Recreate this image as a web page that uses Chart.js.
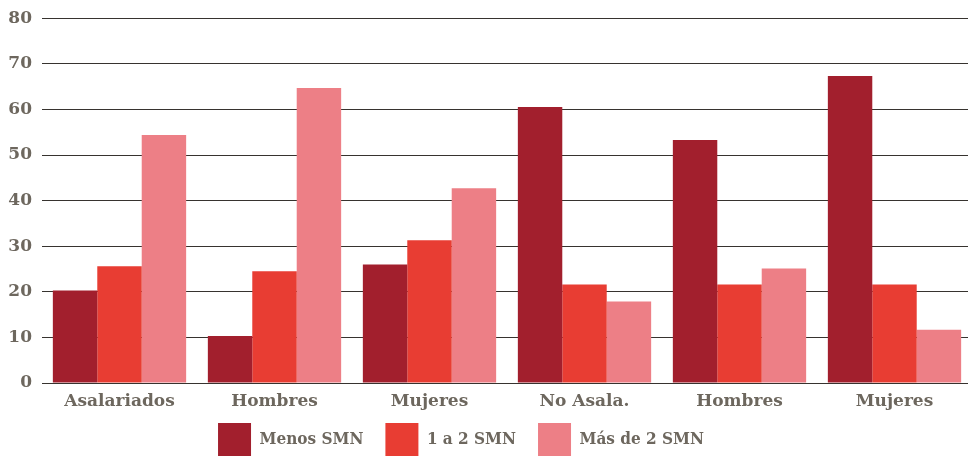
<!DOCTYPE html>
<html>
<head>
<meta charset="utf-8">
<script src="https://cdn.jsdelivr.net/npm/chart.js@4/dist/chart.umd.min.js"></script>
<style>
html,body{margin:0;padding:0;background:#fff;overflow:hidden;}
#wrap{width:968px;height:456px;overflow:hidden;position:relative;}
#box{width:972px;height:479px;position:absolute;left:0;top:-2px;}
</style>
</head>
<body>
<div id="wrap"><div id="box"><canvas id="c"></canvas></div></div>
<script>
const categories = ["Asalariados", "Hombres", "Mujeres", "No Asala.", "Hombres", "Mujeres"];
const seriesNames = ["Menos SMN", "1 a 2 SMN", "Más de 2 SMN"];
const menosSMN = [20.3, 10.3, 26.0, 60.5, 53.3, 67.3];
const unoADosSMN = [25.6, 24.5, 31.3, 21.6, 21.6, 21.6];
const masDeDosSMN = [54.4, 64.7, 42.7, 17.9, 25.1, 11.7];
const yTicks = [0, 10, 20, 30, 40, 50, 60, 70, 80];

const colors = ["#a21f2d", "#e83d33", "#ed7f86"];
const textColor = "#6d675e";
const fontFamily = "'DejaVu Serif', serif";
const legendFont = "'DejaVu Serif Condensed', 'DejaVu Serif', serif";

const shiftLegend = {
  id: 'shiftLegend',
  afterLayout(chart) {
    const l = chart.legend;
    if (l) {
      l.left -= 25; l.right -= 25;
      l.top -= 10; l.bottom -= 10;
    }
  }
};

new Chart(document.getElementById('c'), {
  type: 'bar',
  data: {
    labels: categories,
    datasets: [
      { label: seriesNames[0], data: menosSMN, backgroundColor: colors[0] },
      { label: seriesNames[1], data: unoADosSMN, backgroundColor: colors[1] },
      { label: seriesNames[2], data: masDeDosSMN, backgroundColor: colors[2] }
    ]
  },
  plugins: [shiftLegend],
  options: {
    responsive: true,
    maintainAspectRatio: false,
    animation: false,
    devicePixelRatio: 1,
    layout: { padding: { top: 8, left: 0, right: 0, bottom: 0 } },
    datasets: { bar: { barPercentage: 1.0, categoryPercentage: 0.86, borderWidth: 0 } },
    plugins: {
      tooltip: { enabled: false },
      legend: {
        position: 'bottom',
        labels: {
          boxWidth: 33,
          boxHeight: 34,
          padding: 22,
          color: textColor,
          font: { family: legendFont, weight: 'bold', size: 17 }
        }
      }
    },
    scales: {
      x: {
        afterFit: (s) => { s.height = 28; },
        grid: { display: false },
        border: { display: false },
        ticks: {
          color: textColor,
          padding: 0,
          font: { family: fontFamily, weight: 'bold', size: 17 }
        }
      },
      y: {
        min: 0,
        max: 80,
        z: 1,
        afterFit: (s) => { s.width = 42; },
        afterBuildTicks: (s) => { s.ticks = yTicks.map(v => ({ value: v })); },
        border: { display: false },
        grid: { color: 'rgba(20,15,10,0.85)', lineWidth: 1, drawTicks: false },
        ticks: {
          color: textColor,
          padding: 10,
          font: { family: fontFamily, weight: 'bold', size: 17 }
        }
      }
    }
  }
});
</script>
</body>
</html>
